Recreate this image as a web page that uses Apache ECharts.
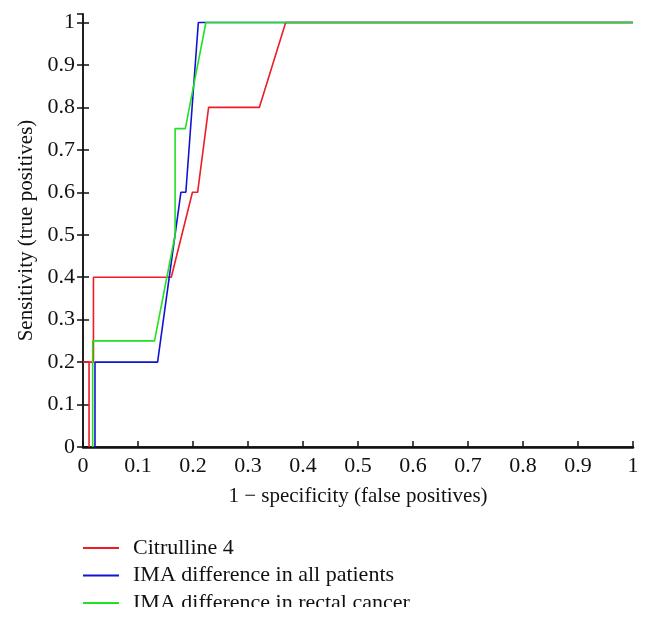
<!DOCTYPE html>
<html>
<head>
<meta charset="utf-8">
<script src="https://cdn.jsdelivr.net/npm/echarts@6/dist/echarts.min.js"></script>
<style>html,body{margin:0;padding:0;background:#fff}#c{width:648px;height:621px}</style>
</head>
<body>
<div id="c"></div>
<script>
var seriesNames = ['Citrulline 4', 'IMA difference in all patients', 'IMA difference in rectal cancer'];
var citrulline = [[0.011,0],[0.011,0.2],[0,0.2],[0.019,0.2],[0.019,0.4],[0.1605,0.4],[0.199,0.6],[0.2084,0.6],[0.2284,0.8],[0.3206,0.8],[0.3685,1],[1,1]];
var imaAll = [[0.0218,0],[0.0218,0.2],[0.1356,0.2],[0.178,0.6],[0.187,0.6],[0.2097,1],[1,1]];
var imaRectal = [[0.0176,0],[0.0176,0.25],[0.130,0.25],[0.1675,0.5],[0.1675,0.75],[0.186,0.75],[0.2235,1],[1,1]];
var colors = ['#ee1c24', '#1212d2', '#22e022'];
var xTitle = '1 \u2212 specificity (false positives)';
var yTitle = 'Sensitivity (true positives)';

var font = 'Liberation Serif';
var chart = echarts.init(document.getElementById('c'), null, {renderer: 'canvas'});
var datas = [citrulline, imaAll, imaRectal];
var axisLineStyle = {color: '#111', width: 1.5};
var tickStyle = {show: true, inside: true, length: 6, lineStyle: {color: '#111', width: 1.5}};
chart.setOption({
  animation: false,
  backgroundColor: '#fff',
  grid: {left: 83, right: 15, top: 14, bottom: 174},
  xAxis: [{
    type: 'value', min: 0, max: 1, interval: 0.1, position: 'bottom',
    axisLine: {show: true, lineStyle: axisLineStyle},
    axisTick: tickStyle,
    axisLabel: {color: '#111', fontFamily: font, fontSize: 22, margin: 8,
      formatter: function (v) { return +v.toFixed(1) + ''; }},
    splitLine: {show: false},
    name: xTitle, nameLocation: 'middle', nameGap: 39,
    nameTextStyle: {color: '#111', fontFamily: font, fontSize: 21}
  }, {
    type: 'value', min: 0, max: 1, position: 'top',
    axisLine: {show: true, lineStyle: {color: '#111', width: 2.5}},
    axisTick: {show: false}, axisLabel: {show: false}, splitLine: {show: false}
  }],
  yAxis: [{
    type: 'value', min: 0, max: 1.02, interval: 0.1, position: 'left',
    axisLine: {show: true, lineStyle: axisLineStyle},
    axisTick: tickStyle,
    axisLabel: {color: '#111', fontFamily: font, fontSize: 22, margin: 8, showMaxLabel: false,
      formatter: function (v) { return v > 1.001 ? '' : (+v.toFixed(1) + ''); }},
    splitLine: {show: false},
    name: yTitle, nameLocation: 'middle', nameGap: 45, nameRotate: 90,
    nameTextStyle: {color: '#111', fontFamily: font, fontSize: 21}
  }, {
    type: 'value', min: 0, max: 1.02, interval: 0.1, position: 'right',
    axisLine: {show: true, lineStyle: axisLineStyle},
    axisTick: tickStyle,
    axisLabel: {show: false}, splitLine: {show: false}
  }],
  legend: {
    orient: 'vertical', left: 83, top: 537, padding: 0, itemWidth: 36, itemHeight: 2, itemGap: 5.5,
    icon: 'rect',
    textStyle: {color: '#111', fontFamily: font, fontSize: 22, lineHeight: 22, padding: [0, 0, 0, 9]},
    data: seriesNames
  },
  series: seriesNames.map(function (n, i) {
    return {
      name: n, type: 'line', data: datas[i], symbol: 'none', showSymbol: false,
      xAxisIndex: 0, yAxisIndex: 0,
      lineStyle: {color: colors[i], width: 1.6}, itemStyle: {color: colors[i]},
      z: 3 + i
    };
  }),
  graphic: [{type: 'rect', left: 0, top: 607, shape: {width: 648, height: 14}, style: {fill: '#fff'}, z: 100}]
});
</script>
</body>
</html>
